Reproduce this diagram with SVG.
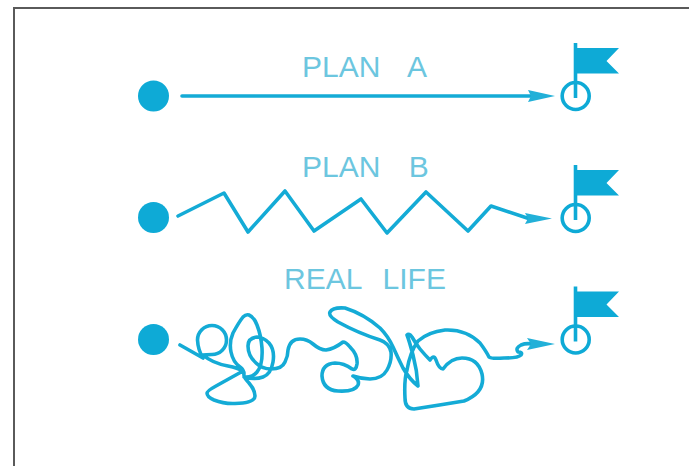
<svg xmlns="http://www.w3.org/2000/svg" width="689" height="466" viewBox="0 0 689 466">
<style>
.dot{fill:#0eaad6}
.flag{fill:#0eaad6}
.pole{fill:none;stroke:#0eaad6;stroke-width:3.6}
.line{fill:none;stroke:#14abd6;stroke-width:3.6;stroke-linecap:round;stroke-linejoin:round}
.head{fill:#22b0d8}
.label{font-family:"Liberation Sans",Arial,sans-serif;font-size:30px;fill:#6cc6df}
</style>
<defs>
<g id="flagmark">
<path class="pole" d="M575.500 43V98"/>
<circle class="pole" cx="575.700" cy="96" r="13.500"/>
<path class="flag" d="M576 48H619L606.500 61L619 73.500H576Z"/>
</g>
</defs>
<rect width="689" height="466" fill="#fff"/>
<path d="M14 466V8H689" fill="none" stroke="#5a5a5a" stroke-width="2"/>
<g id="plan-a">
<circle class="dot" cx="153.500" cy="96" r="15.500"/>
<text class="label" x="302" y="77" style="word-spacing:20px">PLAN A</text>
<use id="flag-a" href="#flagmark"/>
</g>
<g id="plan-b">
<circle class="dot" cx="153.500" cy="217.500" r="15.500"/>
<text class="label" x="302" y="177" style="word-spacing:20px">PLAN B</text>
<use id="flag-b" href="#flagmark" y="122"/>
</g>
<g id="real-life">
<circle class="dot" cx="153.500" cy="339.500" r="15.500"/>
<text class="label" x="284" y="289" style="word-spacing:13px">REAL LIFE</text>
<use id="flag-c" href="#flagmark" y="243.500"/>
</g>
<g id="connectors">
<path class="line" d="M182 96H532"/>
<path class="head" d="M528 90L555 96L528 102L531 96Z"/>
<path class="line" d="M178 216L224 193L248 232L285 191L314 231L361 199L387 233L426 192L468 231L491 206L530 219"/>
<path class="head" d="M525 213L552 218.500L525 224L528 218.500Z"/>
<path class="line" d="M180 345L203 358Q198 350 197.500 340A14.500 14.500 0 1 1 212 354.500Q206 354.500 203 355Q212 363 228 366Q238 368 243 371L216 386Q207 391 207 393Q207 397 214 400Q224 404 235 403.500Q255 403 255 396Q255 390 249 383Q243 377 244 374Q244 370 240 367Q233 362 231 352Q229 342 233 333Q239 322 243 317Q246 314 249 315Q254 317 257 325Q261 335 262 348Q263 365 257 372Q252 378 244 377Q255 380 263 377Q271 374 273 362Q275 350 269 343Q263 337 257 337Q248 338 248 346Q248 356 256 363Q262 369 271 369Q282 369 285 362Q288 356 288 350Q290 339 300 339Q307 339 313 344Q320 350 326 350Q334 349 343 342Q346 342 350 347Q358 355 357 364Q356 371 352 369Q344 363 335 363Q322 364 322 376Q323 390 338 391Q355 392 358 385Q360 380 353 376Q362 379 370 379Q382 379 387 370Q392 361 391 352Q389 343 380 340Q358 333 338 322Q328 316 330 312Q333 307 345 308Q364 314 380 328Q388 336 393 347Q398 358 403 368Q410 380 418 386Q417 370 413 355Q409 340 407 335Q409 333 412 337Q416 344 420 349Q425 355 430 360Q434 354 436 360Q439 369 443 369Q451 358 462 358Q478 358 482 374Q486 392 464 401Q440 405 414 409Q405 409 405 398Q404 380 407 370Q410 352 418 341Q428 332 445 330Q466 329 480 343Q486 351 489 357Q491 359 504 358Q518 358 521 355Q523 352 518 352Q515 348 521 345Q526 343 532 344"/>
<path class="head" d="M527 338L555 344L527 350L531 344Z"/>
</g>
</svg>
